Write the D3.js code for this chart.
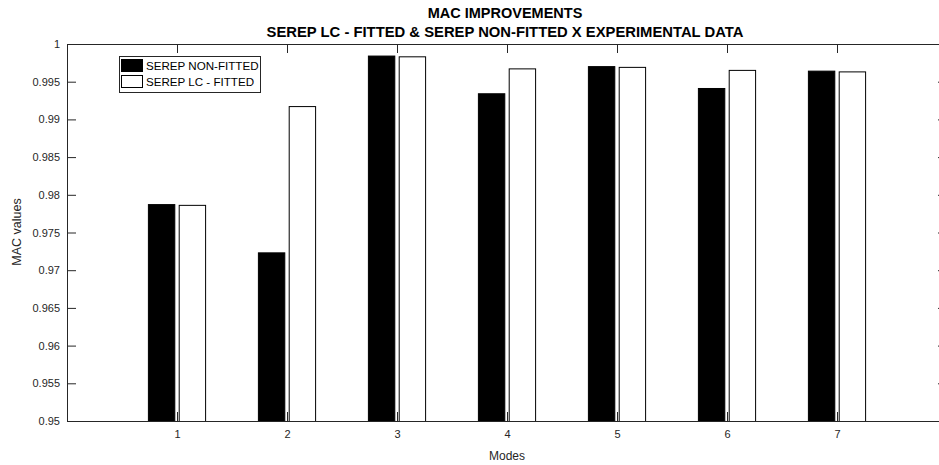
<html>
<script src='https://d3js.org/d3.v7.min.js'></script>
<style>
body {margin: 0; background: #fff;}
text {font-family: 'Liberation Sans', Arial, sans-serif;}
.tick text {font-size: 11px; fill: #262626;}
.tick line, .domain {stroke: #262626;}
</style>
<body onload='init()'>
<svg width=939 height=465></svg>
<script>
// data
var modes = [1, 2, 3, 4, 5, 6, 7];
var nonFitted = [0.9787, 0.9723, 0.9984, 0.9934, 0.9970, 0.9941, 0.9964];
var lcFitted = [0.9786, 0.9917, 0.9983, 0.9967, 0.9969, 0.9965, 0.9963];
var seriesNames = ["SEREP NON-FITTED", "SEREP LC - FITTED"];
var yTickValues = [0.95, 0.955, 0.96, 0.965, 0.97, 0.975, 0.98, 0.985, 0.99, 0.995, 1];
var titleLines = ["MAC IMPROVEMENTS", "SEREP LC - FITTED & SEREP NON-FITTED X EXPERIMENTAL DATA"];

function init() {
  var svg = d3.select("svg");
  var left = 67, right = 947, top = 44, bottom = 421;

  var x = d3.scaleLinear().domain([0, 8]).range([left, right]);
  var y = d3.scaleLinear().domain([0.95, 1]).range([bottom, top]);

  var series = [
    {name: seriesNames[0], values: nonFitted, off: -0.14, fill: "#000"},
    {name: seriesNames[1], values: lcFitted, off: 0.14, fill: "#fff"}
  ];
  var bw = 0.24;

  svg.append("defs").append("clipPath").attr("id", "clip")
    .append("rect").attr("x", left).attr("y", top).attr("width", right - left).attr("height", bottom - top);

  var plot = svg.append("g").attr("clip-path", "url(#clip)");
  series.forEach(function(s) {
    plot.selectAll(null).data(modes).enter().append("rect")
      .attr("x", function(d) { return x(d + s.off - bw / 2); })
      .attr("width", x(bw) - x(0))
      .attr("y", function(d, i) { return y(s.values[i]); })
      .attr("height", function(d, i) { return y(0.95) - y(s.values[i]) + 5; })
      .attr("fill", s.fill)
      .attr("stroke", "#000")
      .attr("stroke-width", 1);
  });

  var fmt = function(d) { return String(+d.toFixed(3)); };

  svg.append("g").attr("transform", "translate(0," + bottom + ")")
    .call(d3.axisBottom(x).tickValues(modes).tickSizeInner(-9).tickSizeOuter(0).tickPadding(9).tickFormat(d3.format("d")));
  svg.append("g").attr("transform", "translate(0," + top + ")")
    .call(d3.axisTop(x).tickValues(modes).tickSizeInner(-9).tickSizeOuter(0).tickFormat(""));
  svg.append("g").attr("transform", "translate(" + left + ",0)")
    .call(d3.axisLeft(y).tickValues(yTickValues).tickSizeInner(-9).tickSizeOuter(0).tickPadding(7).tickFormat(fmt));
  svg.append("g").attr("transform", "translate(" + right + ",0)")
    .call(d3.axisRight(y).tickValues(yTickValues).tickSizeInner(-9).tickSizeOuter(0).tickFormat(""));

  // titles
  svg.append("text").attr("x", 505).attr("y", 18).attr("text-anchor", "middle")
    .style("font-size", "14.5px").style("font-weight", "bold").attr("fill", "#000").text(titleLines[0]);
  svg.append("text").attr("x", 505).attr("y", 37).attr("text-anchor", "middle")
    .style("font-size", "14.8px").style("font-weight", "bold").attr("fill", "#000").text(titleLines[1]);

  // axis labels
  svg.append("text").attr("x", 507).attr("y", 460).attr("text-anchor", "middle")
    .style("font-size", "12px").attr("fill", "#262626").text("Modes");
  svg.append("text").attr("transform", "translate(21,232) rotate(-90)").attr("text-anchor", "middle")
    .style("font-size", "12.5px").attr("fill", "#262626").text("MAC values");

  // legend
  var lg = svg.append("g");
  lg.append("rect").attr("x", 119.5).attr("y", 56.5).attr("width", 141).attr("height", 36)
    .attr("fill", "#fff").attr("stroke", "#262626").attr("stroke-width", 1);
  series.forEach(function(s, i) {
    lg.append("rect").attr("x", 121.5).attr("y", 59.5 + i * 16).attr("width", 21).attr("height", 12)
      .attr("fill", s.fill).attr("stroke", "#000");
    lg.append("text").attr("x", 146).attr("y", 70 + i * 16)
      .style("font-size", "11.6px").attr("fill", "#000").text(s.name);
  });
}
</script>
</body>
</html>
